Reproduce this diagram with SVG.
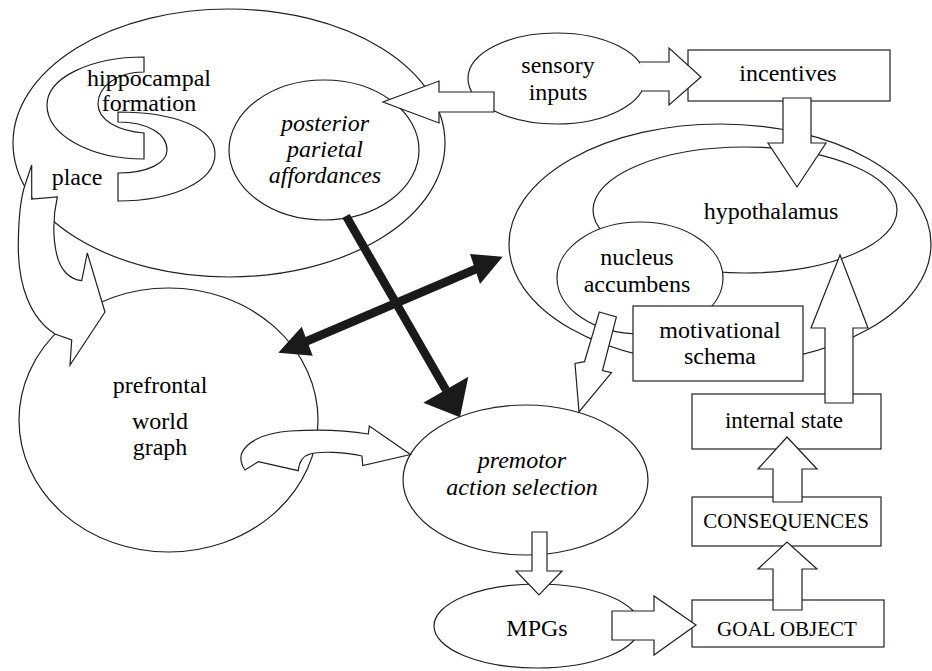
<svg xmlns="http://www.w3.org/2000/svg" width="932" height="671" viewBox="0 0 932 671">
<defs>
<style>
.s{fill:#fff;stroke:#231f20;stroke-width:1.2}
.bl{stroke:#1a1a1a;stroke-width:8.5;fill:none}
.bh{fill:#1a1a1a;stroke:none}
</style>
</defs>
<rect width="932" height="671" fill="#fff"/>
<g id="hippocampal-formation">
<ellipse class="s" cx="229" cy="143" rx="216" ry="134"/>
<path class="s" d="M144,57 C90,57 47,78 47,105 C47,135 90,159 144,159 L144,133 C118,131 98,120 98,104 C98,86 118,72 144,72 Z"/>
<path class="s" d="M118,112 C175,112 215,128 215,154 C215,182 172,201 118,201 L118,173 C148,173 167,163 167,150 C167,134 148,122 118,122 Z"/>
<text font-family="Times New Roman" font-size="24" text-anchor="middle" x="149" y="86">hippocampal</text>
<text font-family="Times New Roman" font-size="24" text-anchor="middle" x="149" y="111">formation</text>
<text font-family="Times New Roman" font-size="24" text-anchor="middle" x="77" y="185">place</text>
</g>
<g id="posterior-parietal">
<ellipse class="s" cx="324" cy="150" rx="95" ry="70"/>
<text font-family="Times New Roman" font-style="italic" font-size="24" text-anchor="middle" x="325" y="131">posterior</text>
<text font-family="Times New Roman" font-style="italic" font-size="24" text-anchor="middle" x="325" y="157">parietal</text>
<text font-family="Times New Roman" font-style="italic" font-size="24" text-anchor="middle" x="325" y="183">affordances</text>
</g>
<g id="prefrontal">
<ellipse class="s" cx="168.5" cy="420" rx="149.5" ry="132"/>
<text font-family="Times New Roman" font-size="24" text-anchor="middle" x="160" y="393">prefrontal</text>
<text font-family="Times New Roman" font-size="24" text-anchor="middle" x="160" y="429">world</text>
<text font-family="Times New Roman" font-size="24" text-anchor="middle" x="160" y="455">graph</text>
</g>
<g id="limbic-region">
<ellipse class="s" cx="720" cy="244" rx="211" ry="120"/>
</g>
<g id="hypothalamus">
<ellipse class="s" cx="745" cy="210" rx="152" ry="63"/>
<text font-family="Times New Roman" font-size="24" text-anchor="middle" x="771" y="219">hypothalamus</text>
</g>
<g id="nucleus-accumbens">
<ellipse class="s" cx="640" cy="278" rx="83" ry="56"/>
<text font-family="Times New Roman" font-size="24" text-anchor="middle" x="637" y="265">nucleus</text>
<text font-family="Times New Roman" font-size="24" text-anchor="middle" x="637" y="292">accumbens</text>
</g>
<g id="motivational-schema">
<rect class="s" x="633" y="306" width="170" height="75"/>
<text font-family="Times New Roman" font-size="24" text-anchor="middle" x="720" y="338">motivational</text>
<text font-family="Times New Roman" font-size="24" text-anchor="middle" x="720" y="364">schema</text>
</g>
<g id="incentives">
<rect class="s" x="688" y="50" width="202" height="51"/>
<text font-family="Times New Roman" font-size="24" text-anchor="middle" x="788" y="81">incentives</text>
</g>
<g id="sensory-inputs">
<ellipse class="s" cx="556.5" cy="78.5" rx="88.5" ry="45.5"/>
<text font-family="Times New Roman" font-size="24" text-anchor="middle" x="558" y="73">sensory</text>
<text font-family="Times New Roman" font-size="24" text-anchor="middle" x="558" y="100">inputs</text>
</g>
<g id="premotor">
<ellipse class="s" cx="525.5" cy="480" rx="122.5" ry="75"/>
<text font-family="Times New Roman" font-style="italic" font-size="24" text-anchor="middle" x="522" y="468">premotor</text>
<text font-family="Times New Roman" font-style="italic" font-size="24" text-anchor="middle" x="522" y="495">action selection</text>
</g>
<g id="mpgs">
<ellipse class="s" cx="537" cy="626" rx="103" ry="42"/>
<text font-family="Times New Roman" font-size="24" text-anchor="middle" x="537" y="636">MPGs</text>
</g>
<g id="internal-state">
<rect class="s" x="692" y="394" width="189" height="55"/>
<text font-family="Times New Roman" font-size="23" text-anchor="middle" x="784" y="428">internal state</text>
</g>
<g id="consequences">
<rect class="s" x="692" y="497" width="189" height="49"/>
<text font-family="Times New Roman" font-size="21" text-anchor="middle" x="786" y="528">CONSEQUENCES</text>
</g>
<g id="goal-object">
<rect class="s" x="692" y="600" width="192" height="47"/>
<text font-family="Times New Roman" font-size="21" text-anchor="middle" x="787" y="636">GOAL OBJECT</text>
</g>
<g id="connectors">
<path class="s" d="M31.7,165 L31.7,199 L57.3,197 C51,225 53,260 66,273 C71,278 76,280 81.7,280.7 L87.3,253 L105,312 L70,365 L71.7,340 L55,334 C30,318 18,285 18.3,245 C18.5,215 21,197 25,185 Z"/>
<path class="s" d="M245,470 C241,465 240,458 241.7,453.3 C246,443 262,433 290,431 C320,429 345,430 368.3,434 L369.3,426 L410.5,454.5 L362.7,465.5 L362,456 C345,452 320,451 310,454 C303,456 299,462 298.3,470.7 L258.3,461.7 Z"/>
<path class="s" d="M494,92 L439,92 L439,81 L383,102 L439,123 L439,112 L494,112 Z"/>
<path class="s" d="M640,62 L669,62 L669,48 L701,77 L669,105 L669,91 L641.5,91"/>
<path class="s" d="M783,98 L811,98 L811,143 L826,143 L797,187 L768,143 L783,143 Z"/>
<path class="s" d="M599.3,312 L616.4,317 L602.5,370.5 L611.5,372.7 L579,412 L575,363.5 L584.5,361.7 Z"/>
<path class="s" d="M825,403 L853,403 L853,328 L868,328 L840,255 L811,328 L825,328 Z"/>
<path class="s" d="M773,502 L802,502 L802,469 L817,469 L787,437 L758,469 L773,469 Z"/>
<path class="s" d="M773,610 L802,610 L802,569 L817,569 L787,542 L758,569 L773,569 Z"/>
<path class="s" d="M532,532 L547,532 L547,571 L562,571 L539,595 L516,571 L532,571 Z"/>
<path class="s" d="M612,611 L654,611 L654,596 L696,625 L654,655 L654,640 L612,640 Z"/>
<line class="bl" x1="346" y1="216" x2="446" y2="390"/>
<line class="bl" x1="306" y1="341.5" x2="476" y2="269"/>
<polygon class="bh" points="423.3,402.7 468.3,376.7 460,417.3"/>
<polygon class="bh" points="301.7,326.7 312.7,355.7 278.3,352.7"/>
<polygon class="bh" points="470,254 480,284 502.7,256.7"/>
</g>
</svg>
